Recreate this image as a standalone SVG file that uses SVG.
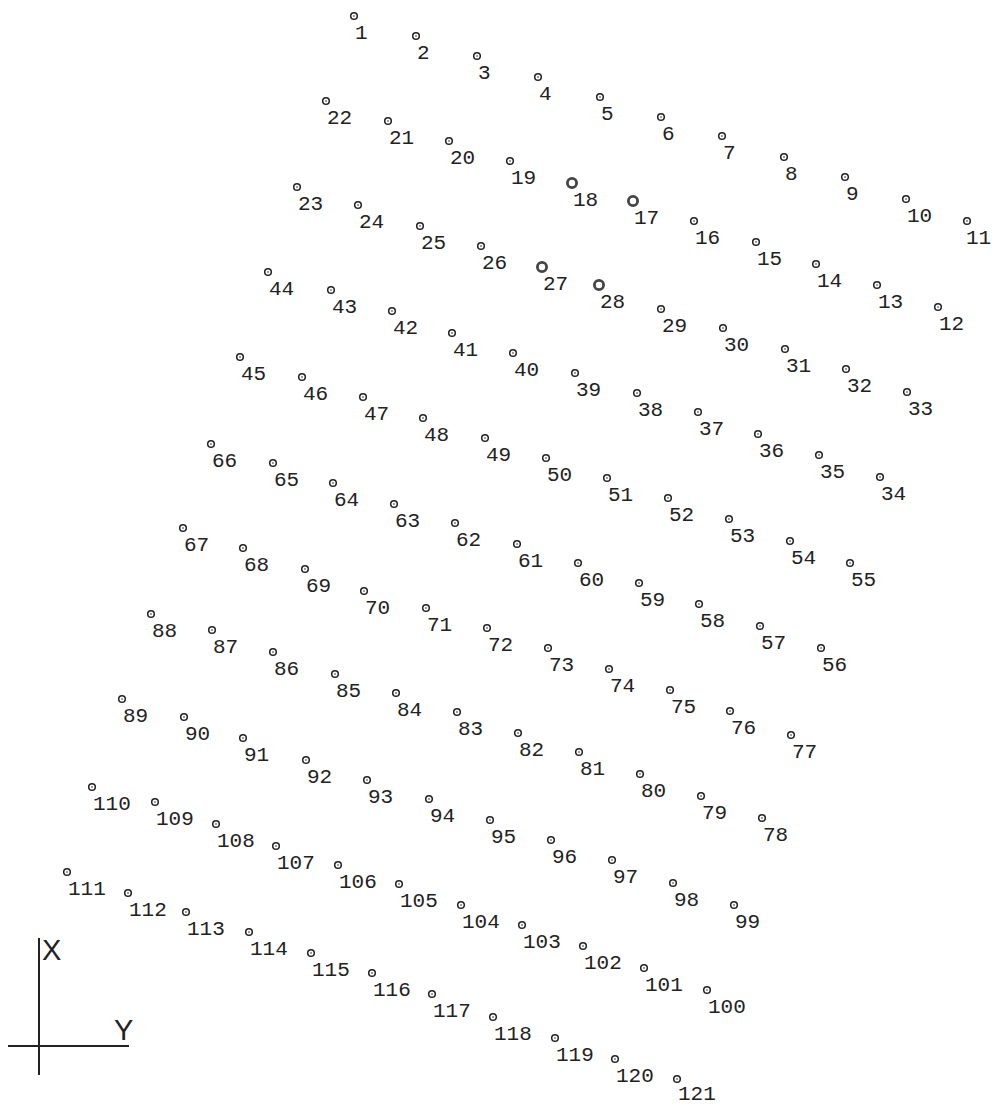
<svg xmlns="http://www.w3.org/2000/svg" xmlns:xlink="http://www.w3.org/1999/xlink" width="992" height="1104" viewBox="0 0 992 1104">
<style>
text{font-family:"Liberation Mono",monospace;font-size:21px;fill:#222}
.ax{stroke:#222;stroke-width:2;fill:none}
.axl{font-family:"Liberation Sans",sans-serif;font-size:29px;fill:#222}
</style>
<defs>
<g id="m"><circle r="3.3" fill="#fff" stroke="#222" stroke-width="1.5"/><circle r="0.8" fill="#222"/></g>
<g id="M"><circle r="4.6" fill="#fff" stroke="#444" stroke-width="2.8"/></g>
</defs>
<rect width="992" height="1104" fill="#fff"/>
<g id="axes">
<line class="ax" x1="39" y1="938" x2="39" y2="1075"/>
<line class="ax" x1="8" y1="1046" x2="129" y2="1046"/>
<text class="axl" x="42" y="960">X</text>
<text class="axl" x="114" y="1040">Y</text>
</g>
<g id="connectors"></g>
<g id="p1"><use href="#m" x="354" y="16"/><text x="355" y="39">1</text></g>
<g id="p2"><use href="#m" x="416" y="36"/><text x="417" y="59">2</text></g>
<g id="p3"><use href="#m" x="477" y="56"/><text x="478" y="79">3</text></g>
<g id="p4"><use href="#m" x="538" y="77"/><text x="539" y="100">4</text></g>
<g id="p5"><use href="#m" x="600" y="97"/><text x="601" y="120">5</text></g>
<g id="p6"><use href="#m" x="661" y="117"/><text x="662" y="140">6</text></g>
<g id="p7"><use href="#m" x="722" y="136"/><text x="723" y="159">7</text></g>
<g id="p8"><use href="#m" x="784" y="157"/><text x="785" y="180">8</text></g>
<g id="p9"><use href="#m" x="845" y="177"/><text x="846" y="200">9</text></g>
<g id="p10"><use href="#m" x="906" y="199"/><text x="907" y="222">10</text></g>
<g id="p11"><use href="#m" x="967" y="221"/><text x="966" y="244">11</text></g>
<g id="p22"><use href="#m" x="326" y="101"/><text x="327" y="124">22</text></g>
<g id="p21"><use href="#m" x="388" y="121"/><text x="389" y="144">21</text></g>
<g id="p20"><use href="#m" x="449" y="141"/><text x="450" y="164">20</text></g>
<g id="p19"><use href="#m" x="510" y="161"/><text x="511" y="184">19</text></g>
<g id="p18"><use href="#M" x="572" y="183"/><text x="573" y="206">18</text></g>
<g id="p17"><use href="#M" x="633" y="201"/><text x="634" y="224">17</text></g>
<g id="p16"><use href="#m" x="694" y="221"/><text x="695" y="244">16</text></g>
<g id="p15"><use href="#m" x="756" y="242"/><text x="757" y="265">15</text></g>
<g id="p14"><use href="#m" x="816" y="264"/><text x="817" y="287">14</text></g>
<g id="p13"><use href="#m" x="877" y="285"/><text x="878" y="308">13</text></g>
<g id="p12"><use href="#m" x="938" y="307"/><text x="939" y="330">12</text></g>
<g id="p23"><use href="#m" x="297" y="187"/><text x="298" y="210">23</text></g>
<g id="p24"><use href="#m" x="358" y="205"/><text x="359" y="228">24</text></g>
<g id="p25"><use href="#m" x="420" y="226"/><text x="421" y="249">25</text></g>
<g id="p26"><use href="#m" x="481" y="246"/><text x="482" y="269">26</text></g>
<g id="p27"><use href="#M" x="542" y="267"/><text x="543" y="290">27</text></g>
<g id="p28"><use href="#M" x="599" y="285"/><text x="600" y="308">28</text></g>
<g id="p29"><use href="#m" x="661" y="309"/><text x="662" y="332">29</text></g>
<g id="p30"><use href="#m" x="723" y="328"/><text x="724" y="351">30</text></g>
<g id="p31"><use href="#m" x="785" y="349"/><text x="786" y="372">31</text></g>
<g id="p32"><use href="#m" x="846" y="369"/><text x="847" y="392">32</text></g>
<g id="p33"><use href="#m" x="907" y="392"/><text x="908" y="415">33</text></g>
<g id="p44"><use href="#m" x="268" y="272"/><text x="269" y="295">44</text></g>
<g id="p43"><use href="#m" x="331" y="290"/><text x="332" y="313">43</text></g>
<g id="p42"><use href="#m" x="392" y="311"/><text x="393" y="334">42</text></g>
<g id="p41"><use href="#m" x="452" y="333"/><text x="453" y="356">41</text></g>
<g id="p40"><use href="#m" x="513" y="353"/><text x="514" y="376">40</text></g>
<g id="p39"><use href="#m" x="575" y="373"/><text x="576" y="396">39</text></g>
<g id="p38"><use href="#m" x="637" y="393"/><text x="638" y="416">38</text></g>
<g id="p37"><use href="#m" x="698" y="412"/><text x="699" y="435">37</text></g>
<g id="p36"><use href="#m" x="758" y="434"/><text x="759" y="457">36</text></g>
<g id="p35"><use href="#m" x="819" y="455"/><text x="820" y="478">35</text></g>
<g id="p34"><use href="#m" x="880" y="477"/><text x="881" y="500">34</text></g>
<g id="p45"><use href="#m" x="240" y="357"/><text x="241" y="380">45</text></g>
<g id="p46"><use href="#m" x="302" y="377"/><text x="303" y="400">46</text></g>
<g id="p47"><use href="#m" x="363" y="397"/><text x="364" y="420">47</text></g>
<g id="p48"><use href="#m" x="423" y="418"/><text x="424" y="441">48</text></g>
<g id="p49"><use href="#m" x="485" y="438"/><text x="486" y="461">49</text></g>
<g id="p50"><use href="#m" x="546" y="458"/><text x="547" y="481">50</text></g>
<g id="p51"><use href="#m" x="607" y="478"/><text x="608" y="501">51</text></g>
<g id="p52"><use href="#m" x="668" y="498"/><text x="669" y="521">52</text></g>
<g id="p53"><use href="#m" x="729" y="519"/><text x="730" y="542">53</text></g>
<g id="p54"><use href="#m" x="790" y="541"/><text x="791" y="564">54</text></g>
<g id="p55"><use href="#m" x="850" y="563"/><text x="851" y="586">55</text></g>
<g id="p66"><use href="#m" x="211" y="444"/><text x="212" y="467">66</text></g>
<g id="p65"><use href="#m" x="273" y="463"/><text x="274" y="486">65</text></g>
<g id="p64"><use href="#m" x="333" y="483"/><text x="334" y="506">64</text></g>
<g id="p63"><use href="#m" x="394" y="504"/><text x="395" y="527">63</text></g>
<g id="p62"><use href="#m" x="455" y="523"/><text x="456" y="546">62</text></g>
<g id="p61"><use href="#m" x="517" y="544"/><text x="518" y="567">61</text></g>
<g id="p60"><use href="#m" x="578" y="563"/><text x="579" y="586">60</text></g>
<g id="p59"><use href="#m" x="639" y="583"/><text x="640" y="606">59</text></g>
<g id="p58"><use href="#m" x="699" y="604"/><text x="700" y="627">58</text></g>
<g id="p57"><use href="#m" x="760" y="626"/><text x="761" y="649">57</text></g>
<g id="p56"><use href="#m" x="821" y="648"/><text x="822" y="671">56</text></g>
<g id="p67"><use href="#m" x="183" y="528"/><text x="184" y="551">67</text></g>
<g id="p68"><use href="#m" x="243" y="548"/><text x="244" y="571">68</text></g>
<g id="p69"><use href="#m" x="305" y="569"/><text x="306" y="592">69</text></g>
<g id="p70"><use href="#m" x="364" y="591"/><text x="365" y="614">70</text></g>
<g id="p71"><use href="#m" x="426" y="608"/><text x="427" y="631">71</text></g>
<g id="p72"><use href="#m" x="487" y="628"/><text x="488" y="651">72</text></g>
<g id="p73"><use href="#m" x="548" y="648"/><text x="549" y="671">73</text></g>
<g id="p74"><use href="#m" x="609" y="669"/><text x="610" y="692">74</text></g>
<g id="p75"><use href="#m" x="670" y="690"/><text x="671" y="713">75</text></g>
<g id="p76"><use href="#m" x="730" y="711"/><text x="731" y="734">76</text></g>
<g id="p77"><use href="#m" x="791" y="735"/><text x="792" y="758">77</text></g>
<g id="p88"><use href="#m" x="151" y="614"/><text x="152" y="637">88</text></g>
<g id="p87"><use href="#m" x="212" y="630"/><text x="213" y="653">87</text></g>
<g id="p86"><use href="#m" x="273" y="652"/><text x="274" y="675">86</text></g>
<g id="p85"><use href="#m" x="335" y="674"/><text x="336" y="697">85</text></g>
<g id="p84"><use href="#m" x="396" y="693"/><text x="397" y="716">84</text></g>
<g id="p83"><use href="#m" x="457" y="712"/><text x="458" y="735">83</text></g>
<g id="p82"><use href="#m" x="518" y="733"/><text x="519" y="756">82</text></g>
<g id="p81"><use href="#m" x="579" y="752"/><text x="580" y="775">81</text></g>
<g id="p80"><use href="#m" x="640" y="774"/><text x="641" y="797">80</text></g>
<g id="p79"><use href="#m" x="701" y="796"/><text x="702" y="819">79</text></g>
<g id="p78"><use href="#m" x="762" y="818"/><text x="763" y="841">78</text></g>
<g id="p89"><use href="#m" x="122" y="699"/><text x="123" y="722">89</text></g>
<g id="p90"><use href="#m" x="184" y="717"/><text x="185" y="740">90</text></g>
<g id="p91"><use href="#m" x="243" y="738"/><text x="244" y="761">91</text></g>
<g id="p92"><use href="#m" x="306" y="760"/><text x="307" y="783">92</text></g>
<g id="p93"><use href="#m" x="367" y="780"/><text x="368" y="803">93</text></g>
<g id="p94"><use href="#m" x="429" y="799"/><text x="430" y="822">94</text></g>
<g id="p95"><use href="#m" x="490" y="820"/><text x="491" y="843">95</text></g>
<g id="p96"><use href="#m" x="551" y="840"/><text x="552" y="863">96</text></g>
<g id="p97"><use href="#m" x="612" y="860"/><text x="613" y="883">97</text></g>
<g id="p98"><use href="#m" x="673" y="883"/><text x="674" y="906">98</text></g>
<g id="p99"><use href="#m" x="734" y="905"/><text x="735" y="928">99</text></g>
<g id="p110"><use href="#m" x="92" y="787"/><text x="93" y="810">110</text></g>
<g id="p109"><use href="#m" x="155" y="802"/><text x="156" y="825">109</text></g>
<g id="p108"><use href="#m" x="216" y="824"/><text x="217" y="847">108</text></g>
<g id="p107"><use href="#m" x="276" y="846"/><text x="277" y="869">107</text></g>
<g id="p106"><use href="#m" x="338" y="865"/><text x="339" y="888">106</text></g>
<g id="p105"><use href="#m" x="399" y="884"/><text x="400" y="907">105</text></g>
<g id="p104"><use href="#m" x="461" y="905"/><text x="462" y="928">104</text></g>
<g id="p103"><use href="#m" x="522" y="925"/><text x="523" y="948">103</text></g>
<g id="p102"><use href="#m" x="583" y="946"/><text x="584" y="969">102</text></g>
<g id="p101"><use href="#m" x="644" y="968"/><text x="645" y="991">101</text></g>
<g id="p100"><use href="#m" x="707" y="990"/><text x="708" y="1013">100</text></g>
<g id="p111"><use href="#m" x="67" y="872"/><text x="68" y="895">111</text></g>
<g id="p112"><use href="#m" x="128" y="893"/><text x="129" y="916">112</text></g>
<g id="p113"><use href="#m" x="186" y="912"/><text x="187" y="935">113</text></g>
<g id="p114"><use href="#m" x="249" y="932"/><text x="250" y="955">114</text></g>
<g id="p115"><use href="#m" x="311" y="953"/><text x="312" y="976">115</text></g>
<g id="p116"><use href="#m" x="372" y="973"/><text x="373" y="996">116</text></g>
<g id="p117"><use href="#m" x="432" y="994"/><text x="433" y="1017">117</text></g>
<g id="p118"><use href="#m" x="493" y="1017"/><text x="494" y="1040">118</text></g>
<g id="p119"><use href="#m" x="555" y="1038"/><text x="556" y="1061">119</text></g>
<g id="p120"><use href="#m" x="615" y="1059"/><text x="616" y="1082">120</text></g>
<g id="p121"><use href="#m" x="677" y="1079"/><text x="678" y="1100">121</text></g>
</svg>
